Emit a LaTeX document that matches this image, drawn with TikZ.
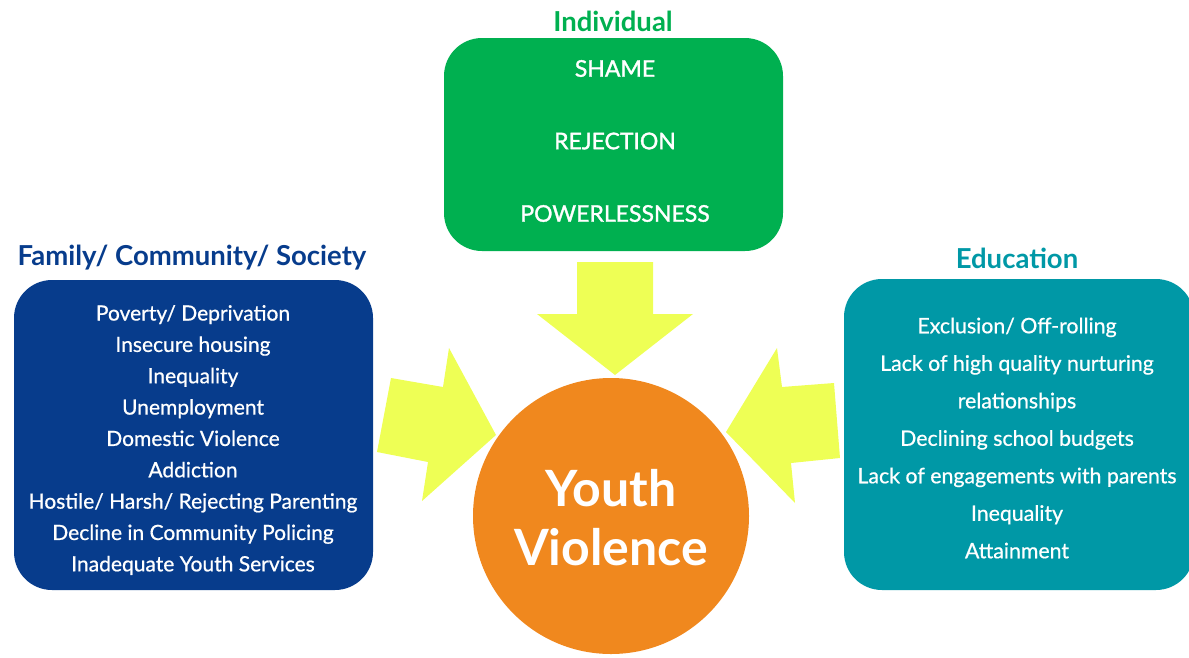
\documentclass[tikz,border=0pt]{standalone}
\usepackage{fontspec}
\setmainfont{Lato}
\newfontfamily\medfont{Lato}[FakeBold=0.7]
\newfontfamily\semifont{Lato}[FakeBold=1.4]
\definecolor{fblue}{HTML}{073C8C}
\definecolor{igreen}{HTML}{00B050}
\definecolor{eteal}{HTML}{0098A6}
\definecolor{yorange}{HTML}{F0881E}
\definecolor{ayellow}{HTML}{EEFF55}
\begin{document}
\begin{tikzpicture}[x=1pt,y=-1pt,
  box/.style={rounded corners=38pt, inner sep=0pt},
  title/.style={font=\bfseries\fontsize{27.5}{30}\selectfont, inner sep=0pt},
  items/.style={text=white, align=center, inner sep=0pt},
  blockarrow/.style={fill=ayellow, draw=none}]
\useasboundingbox (0,0) rectangle (1189,657);
\begin{scope}
\clip (0,0) rectangle (1189,657);
% boxes
\node[box, fill=igreen, minimum width=339pt, minimum height=213pt] (ind) at (613.5,144.5) {};
\node[box, fill=fblue, minimum width=359pt, minimum height=310pt] (fam) at (193.5,435) {};
\node[box, fill=eteal, minimum width=350pt, minimum height=311pt] (edu) at (1019,434.5) {};
% arrows
\path[blockarrow] (577,262) -- (653,262) -- (653,314) -- (693,314) -- (615,375) -- (537,314) -- (577,314) -- cycle;
\path[blockarrow] (391,378) -- (443,387) -- (449,348) -- (496,435) -- (422,501) -- (428,462) -- (377,452) -- cycle;
\path[blockarrow] (834,383) -- (782,387) -- (777,348) -- (726,432) -- (795,503) -- (791,463) -- (840,458) -- cycle;
% circle
\node[circle, fill=yorange, minimum size=276pt, inner sep=0pt] (yv) at (611,516) {};
\end{scope}
% titles
\node[title, text=igreen] (indt) at (613,21) {Individual};
\node[title, text=fblue] (famt) at (192,258) {Family/ Community/ Society};
\node[title, text=eteal] (edut) at (1017,258) {Education};
% items
\node[items, font=\semifont\fontsize{23}{72.5}\selectfont] (indi) at (615,141) {SHAME\\REJECTION\\POWERLESSNESS};
\node[items, font=\medfont\fontsize{21}{31.35}\selectfont] (fami) at (193,440) {Poverty/ Deprivation\\Insecure housing\\Inequality\\Unemployment\\Domestic Violence\\Addiction\\Hostile/ Harsh/ Rejecting Parenting\\Decline in Community Policing\\Inadequate Youth Services};
\node[items, font=\medfont\fontsize{21.3}{37.5}\selectfont] (edui) at (1017,438) {Exclusion/ Off-rolling\\Lack of high quality nurturing\\relationships\\Declining school budgets\\Lack of engagements with parents\\Inequality\\Attainment};
\node[items, font=\bfseries\fontsize{50}{59}\selectfont] (yvt) at (611,518) {Youth\\Violence};
\end{tikzpicture}
\end{document}
